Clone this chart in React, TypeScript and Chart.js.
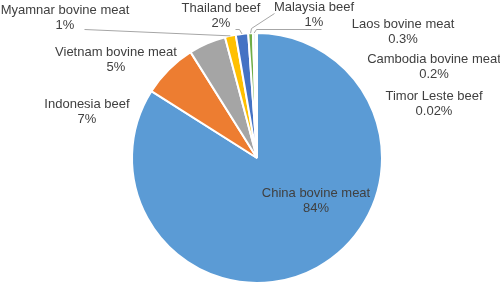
import React, { useEffect, useRef } from "react";
import { Chart, registerables } from "chart.js";

Chart.register(...registerables);

const CATEGORIES = [
  "China bovine meat",
  "Indonesia beef",
  "Vietnam bovine meat",
  "Myamnar bovine meat",
  "Thailand beef",
  "Malaysia beef",
  "Laos bovine meat",
  "Cambodia bovine meat",
  "Timor Leste beef",
];
const SHARES = [84.0, 7.1, 4.8, 1.4, 1.6, 0.6, 0.3, 0.2, 0.02];
const PCT_LABELS = ["84%", "7%", "5%", "1%", "2%", "1%", "0.3%", "0.2%", "0.02%"];
const COLORS = ["#5B9BD5", "#ED7D31", "#A5A5A5", "#FFC000", "#4472C4", "#70AD47", "#255E91", "#9E480E", "#636363"];

// label text centres (canvas px) and leader-line start points
const LABEL_POS: [number, number][] = [
  [316, 193], [87, 104], [116, 52], [65, 10], [221, 8], [314, 7], [403, 24], [434, 59], [434, 96],
];
const LEADERS: Record<number, [number, number][]> = {
  3: [[84, 29]],
  4: [[235, 29], [239, 29]],
  5: [[274, 13], [251, 28]],
  6: [[321, 29], [256, 29]],
};

const labelPlugin = {
  id: "pieLabels",
  afterDatasetsDraw(chart: any) {
    const ctx = chart.ctx;
    const meta = chart.getDatasetMeta(0);
    ctx.save();
    ctx.strokeStyle = "#A6A6A6";
    ctx.lineWidth = 1;
    Object.keys(LEADERS).forEach((k) => {
      const i = Number(k);
      const arc = meta.data[i];
      const { x, y, startAngle, endAngle, outerRadius } = arc.getProps(
        ["x", "y", "startAngle", "endAngle", "outerRadius"], true
      );
      const mid = (startAngle + endAngle) / 2;
      const ex = x + Math.cos(mid) * outerRadius;
      const ey = y + Math.sin(mid) * outerRadius;
      const pts = LEADERS[i];
      ctx.beginPath();
      ctx.moveTo(pts[0][0] + 0.5, pts[0][1] + 0.5);
      for (let j = 1; j < pts.length; j++) ctx.lineTo(pts[j][0] + 0.5, pts[j][1] + 0.5);
      ctx.lineTo(ex, ey);
      ctx.stroke();
    });
    ctx.font = "13px 'Liberation Sans', Arial, sans-serif";
    ctx.textAlign = "center";
    ctx.textBaseline = "middle";
    CATEGORIES.forEach((name, i) => {
      const [lx, ly] = LABEL_POS[i];
      ctx.fillStyle = "#404040";
      ctx.fillText(name, lx, ly);
      ctx.fillText(PCT_LABELS[i], lx, ly + 15.5);
    });
    ctx.restore();
  },
};

export default function App() {
  const ref = useRef<HTMLCanvasElement>(null);
  useEffect(() => {
    if (!ref.current) return;
    const chart = new Chart(ref.current, {
      type: "pie",
      data: {
        labels: CATEGORIES,
        datasets: [
          {
            data: SHARES,
            backgroundColor: COLORS,
            borderColor: "#ffffff",
            borderWidth: 2,
          },
        ],
      },
      options: {
        animation: false,
        responsive: true,
        maintainAspectRatio: false,
        layout: { padding: { left: 131, right: 117, top: 32, bottom: 3 } },
        plugins: { legend: { display: false }, tooltip: { enabled: false } },
      },
      plugins: [labelPlugin],
    });
    return () => chart.destroy();
  }, []);
  return (
    <div style={{ position: "absolute", left: 0, top: 0, width: 500, height: 287, background: "#fff" }}>
      <canvas ref={ref} />
    </div>
  );
}
